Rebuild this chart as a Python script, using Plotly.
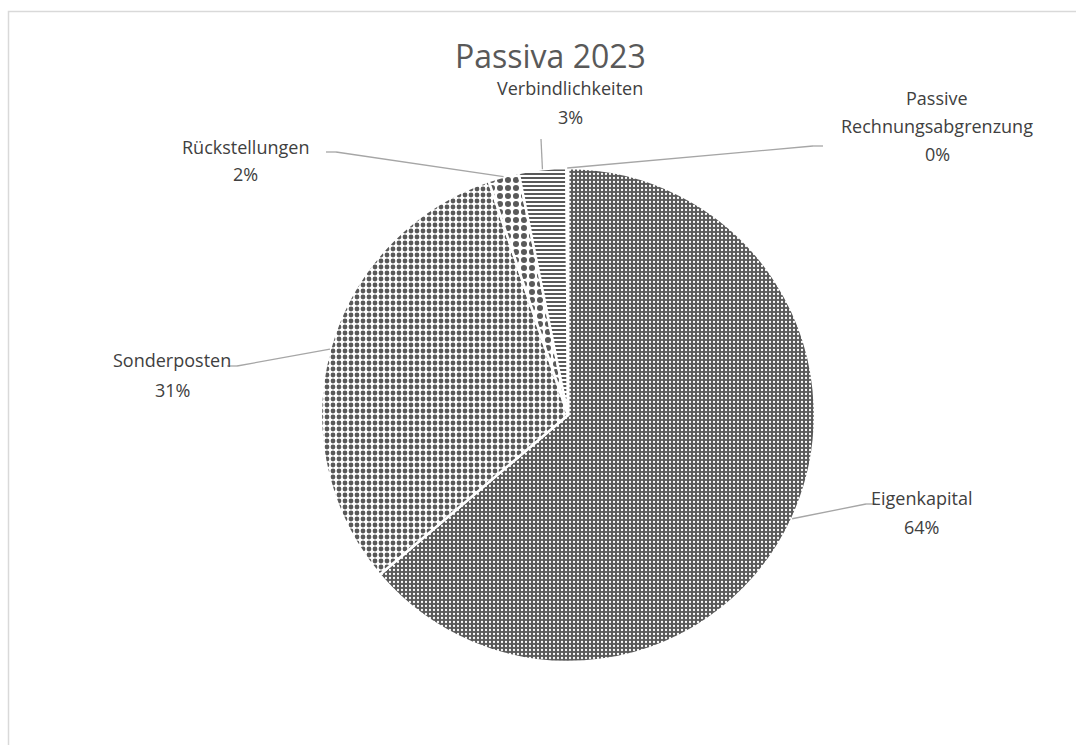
import math
import plotly.graph_objects as go

# ---- data ----
categories = ["Eigenkapital", "Sonderposten", "Rückstellungen", "Verbindlichkeiten",
              "Passive Rechnungsabgrenzung"]
values = [63.8, 31.0, 2.0, 3.1, 0.1]
label_lines = [["Eigenkapital"], ["Sonderposten"], ["Rückstellungen"], ["Verbindlichkeiten"],
               ["Passive", "Rechnungsabgrenzung"]]
title_text = "Passiva 2023"

# ---- layout constants (pixels) ----
W, H = 1076, 745
CX, CY, R = 568, 415, 247
TEXT_COLOR = "#404040"
FONT = "Open Sans"
FS = 18

# label block: (center x, y of first line, line spacing, leader anchor point near label)
label_pos = [
    (921, 498, 29, [(876, 504), (866, 504)]),
    (172, 360, 30, [(227, 366), (237, 366)]),
    (245, 147, 27, [(326, 152), (336, 152)]),
    (570, 88, 29, [(541, 139)]),
    (937, 98, 28, [(823, 146), (813, 146)]),
]

pattern_shapes = [".", ".", ".", "-", "|"]
pattern_fg = ["white", "#595959", "#595959", "#595959", "#595959"]
pattern_bg = ["#595959", "white", "white", "white", "white"]
pattern_size = [4, 6, 8, 4, 4]
pattern_sol = [0.25, 0.5, 0.45, 0.5, 0.5]

fig = go.Figure()
fig.add_trace(go.Pie(
    labels=categories,
    values=values,
    sort=False,
    direction="clockwise",
    rotation=0,
    textinfo="none",
    hoverinfo="label+percent",
    showlegend=False,
    marker=dict(
        colors=pattern_bg,
        line=dict(color="white", width=2.5),
        pattern=dict(shape=pattern_shapes, fgcolor=pattern_fg, bgcolor=pattern_bg,
                     size=pattern_size, solidity=pattern_sol, fillmode="replace"),
    ),
    domain=dict(x=[(CX - R) / W, (CX + R) / W], y=[(H - CY - R) / H, (H - CY + R) / H]),
))

total = sum(values)
annotations = []
shapes = []
cum = 0.0
for i, v in enumerate(values):
    frac = v / total
    mid = (cum + frac / 2) * 2 * math.pi
    cum += frac
    px = CX + R * math.sin(mid)
    py = CY - R * math.cos(mid)
    cxl, y0, dy, anchor = label_pos[i]
    lines = label_lines[i] + [f"{round(frac * 100)}%"]
    for j, t in enumerate(lines):
        annotations.append(dict(
            x=cxl / W, y=1 - (y0 + j * dy) / H, xref="paper", yref="paper",
            text=t, showarrow=False, xanchor="center", yanchor="middle",
            font=dict(family=FONT, size=FS, color=TEXT_COLOR)))
    pts = anchor + [(px, py)]
    for (x1, y1), (x2, y2) in zip(pts[:-1], pts[1:]):
        shapes.append(dict(type="line", xref="paper", yref="paper",
                           x0=x1 / W, y0=1 - y1 / H, x1=x2 / W, y1=1 - y2 / H,
                           line=dict(color="#a6a6a6", width=1.3)))

# outer chart border (clipped by page edges on right/bottom)
shapes.append(dict(type="rect", xref="paper", yref="paper",
                   x0=8.5 / W, y0=-0.02, x1=1.02, y1=1 - 11.5 / H,
                   line=dict(color="#d9d9d9", width=1.5), fillcolor="rgba(0,0,0,0)"))

annotations.append(dict(x=550 / W, y=1 - 55 / H, xref="paper", yref="paper",
                        text=title_text, showarrow=False, xanchor="center", yanchor="middle",
                        font=dict(family=FONT, size=32, color="#595959")))

fig.update_layout(
    width=W, height=H,
    margin=dict(l=0, r=0, t=0, b=0),
    paper_bgcolor="white", plot_bgcolor="white",
    annotations=annotations, shapes=shapes,
)

fig.write_html("out.html")
